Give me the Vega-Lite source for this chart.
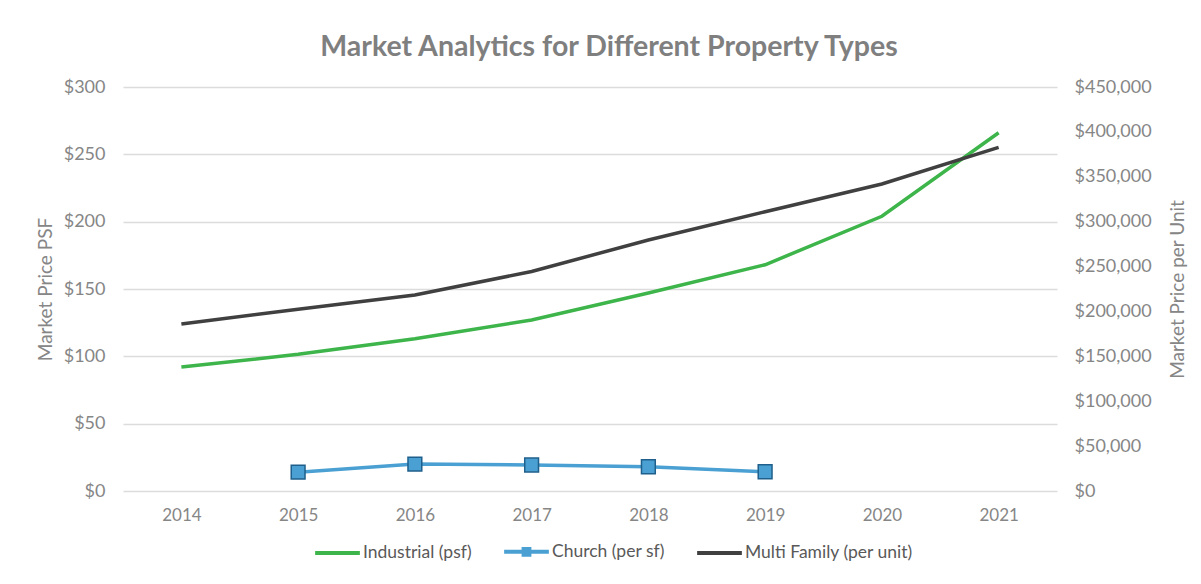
{
  "$schema": "https://vega.github.io/schema/vega-lite/v6.json",
  "autosize": "none",
  "width": 934,
  "height": 404,
  "padding": {"left": 123, "top": 87, "right": 144, "bottom": 93},
  "background": "white",
  "title": {
    "text": "Market Analytics for Different Property Types",
    "font": "Lato",
    "fontSize": 28.5,
    "fontWeight": "bold",
    "color": "#7f7f7f",
    "anchor": "middle",
    "dx": 19,
    "offset": 17
  },
  "config": {
    "view": {"stroke": null},
    "font": "Lato",
    "axis": {"labelFont": "Lato", "titleFont": "Lato", "labelColor": "#868686", "titleColor": "#868686", "labelFontSize": 18, "titleFontSize": 19, "titleFontWeight": "normal", "domain": false, "ticks": false, "labelOverlap": false}
  },
  "data": {
    "values": [
      {"year": "2014", "series": "Industrial (psf)", "value": 92},
      {"year": "2015", "series": "Industrial (psf)", "value": 101.5},
      {"year": "2016", "series": "Industrial (psf)", "value": 113},
      {"year": "2017", "series": "Industrial (psf)", "value": 127},
      {"year": "2018", "series": "Industrial (psf)", "value": 147},
      {"year": "2019", "series": "Industrial (psf)", "value": 168},
      {"year": "2020", "series": "Industrial (psf)", "value": 204},
      {"year": "2021", "series": "Industrial (psf)", "value": 266},
      {"year": "2015", "series": "Church (per sf)", "value": 14},
      {"year": "2016", "series": "Church (per sf)", "value": 20},
      {"year": "2017", "series": "Church (per sf)", "value": 19.3},
      {"year": "2018", "series": "Church (per sf)", "value": 18},
      {"year": "2019", "series": "Church (per sf)", "value": 14.3},
      {"year": "2014", "series": "Multi Family (per unit)", "value": 186000},
      {"year": "2015", "series": "Multi Family (per unit)", "value": 202500},
      {"year": "2016", "series": "Multi Family (per unit)", "value": 218300},
      {"year": "2017", "series": "Multi Family (per unit)", "value": 244500},
      {"year": "2018", "series": "Multi Family (per unit)", "value": 279600},
      {"year": "2019", "series": "Multi Family (per unit)", "value": 311000},
      {"year": "2020", "series": "Multi Family (per unit)", "value": 342000},
      {"year": "2021", "series": "Multi Family (per unit)", "value": 382800}
    ]
  },
  "encoding": {
    "x": {
      "field": "year", "type": "ordinal",
      "scale": {"type": "point", "padding": 0.5},
      "axis": {"title": null, "labelAngle": 0, "labelPadding": 16, "labelFontSize": 17}
    },
    "color": {
      "field": "series", "type": "nominal",
      "scale": {"domain": ["Industrial (psf)", "Church (per sf)", "Multi Family (per unit)"], "range": ["#3db54a", "#4aa0d2", "#404040"]},
      "legend": {
        "title": null, "orient": "none", "direction": "horizontal", "legendX": 190, "legendY": 440,
        "labelFont": "Lato", "labelFontSize": 17.5, "labelColor": "#595959", "labelOffset": 1, "labelLimit": 400,
        "columnPadding": 24, "symbolSize": 2000, "symbolStrokeWidth": 4,
        "symbolType": "stroke",
        "encode": {
          "symbols": {
            "update": {
              "shape": {"signal": "datum.value === 'Church (per sf)' ? 'M-1,0H-0.13M0.13,0H1M-0.13,-0.13H0.13V0.13H-0.13Z' : 'M-1,0H1'"},
              "fill": {"signal": "datum.value === 'Church (per sf)' ? '#4aa0d2' : 'transparent'"},
              "strokeWidth": {"value": 4}
            }
          }
        }
      }
    }
  },
  "layer": [
    {
      "encoding": {
        "y": {
          "field": "value", "type": "quantitative",
          "scale": {"domain": [0, 300], "nice": false},
          "axis": {"title": "Market Price PSF", "format": "$,.0f", "values": [0, 50, 100, 150, 200, 250, 300], "gridColor": "#dcdcdc", "gridWidth": 1.5, "labelPadding": 18, "titlePadding": 8}
        }
      },
      "layer": [
        {
          "transform": [{"filter": "datum.series !== 'Multi Family (per unit)'"}],
          "mark": {"type": "line", "strokeWidth": 3.5}
        },
        {
          "transform": [{"filter": "datum.series === 'Church (per sf)'"}],
          "mark": {"type": "point", "shape": "square", "filled": true, "size": 190, "stroke": "#1f5f8b", "strokeWidth": 1.5, "opacity": 1}
        }
      ]
    },
    {
      "transform": [{"filter": "datum.series === 'Multi Family (per unit)'"}],
      "mark": {"type": "line", "strokeWidth": 3.5},
      "encoding": {
        "y": {
          "field": "value", "type": "quantitative",
          "scale": {"domain": [0, 450000], "nice": false},
          "axis": {"orient": "right", "title": "Market Price per Unit", "format": "$,.0f", "values": [0, 50000, 100000, 150000, 200000, 250000, 300000, 350000, 400000, 450000], "grid": false, "labelPadding": 17, "titleAngle": -90, "titleBaseline": "top", "titlePadding": 17}
        }
      }
    }
  ],
  "resolve": {"scale": {"y": "independent"}}
}
